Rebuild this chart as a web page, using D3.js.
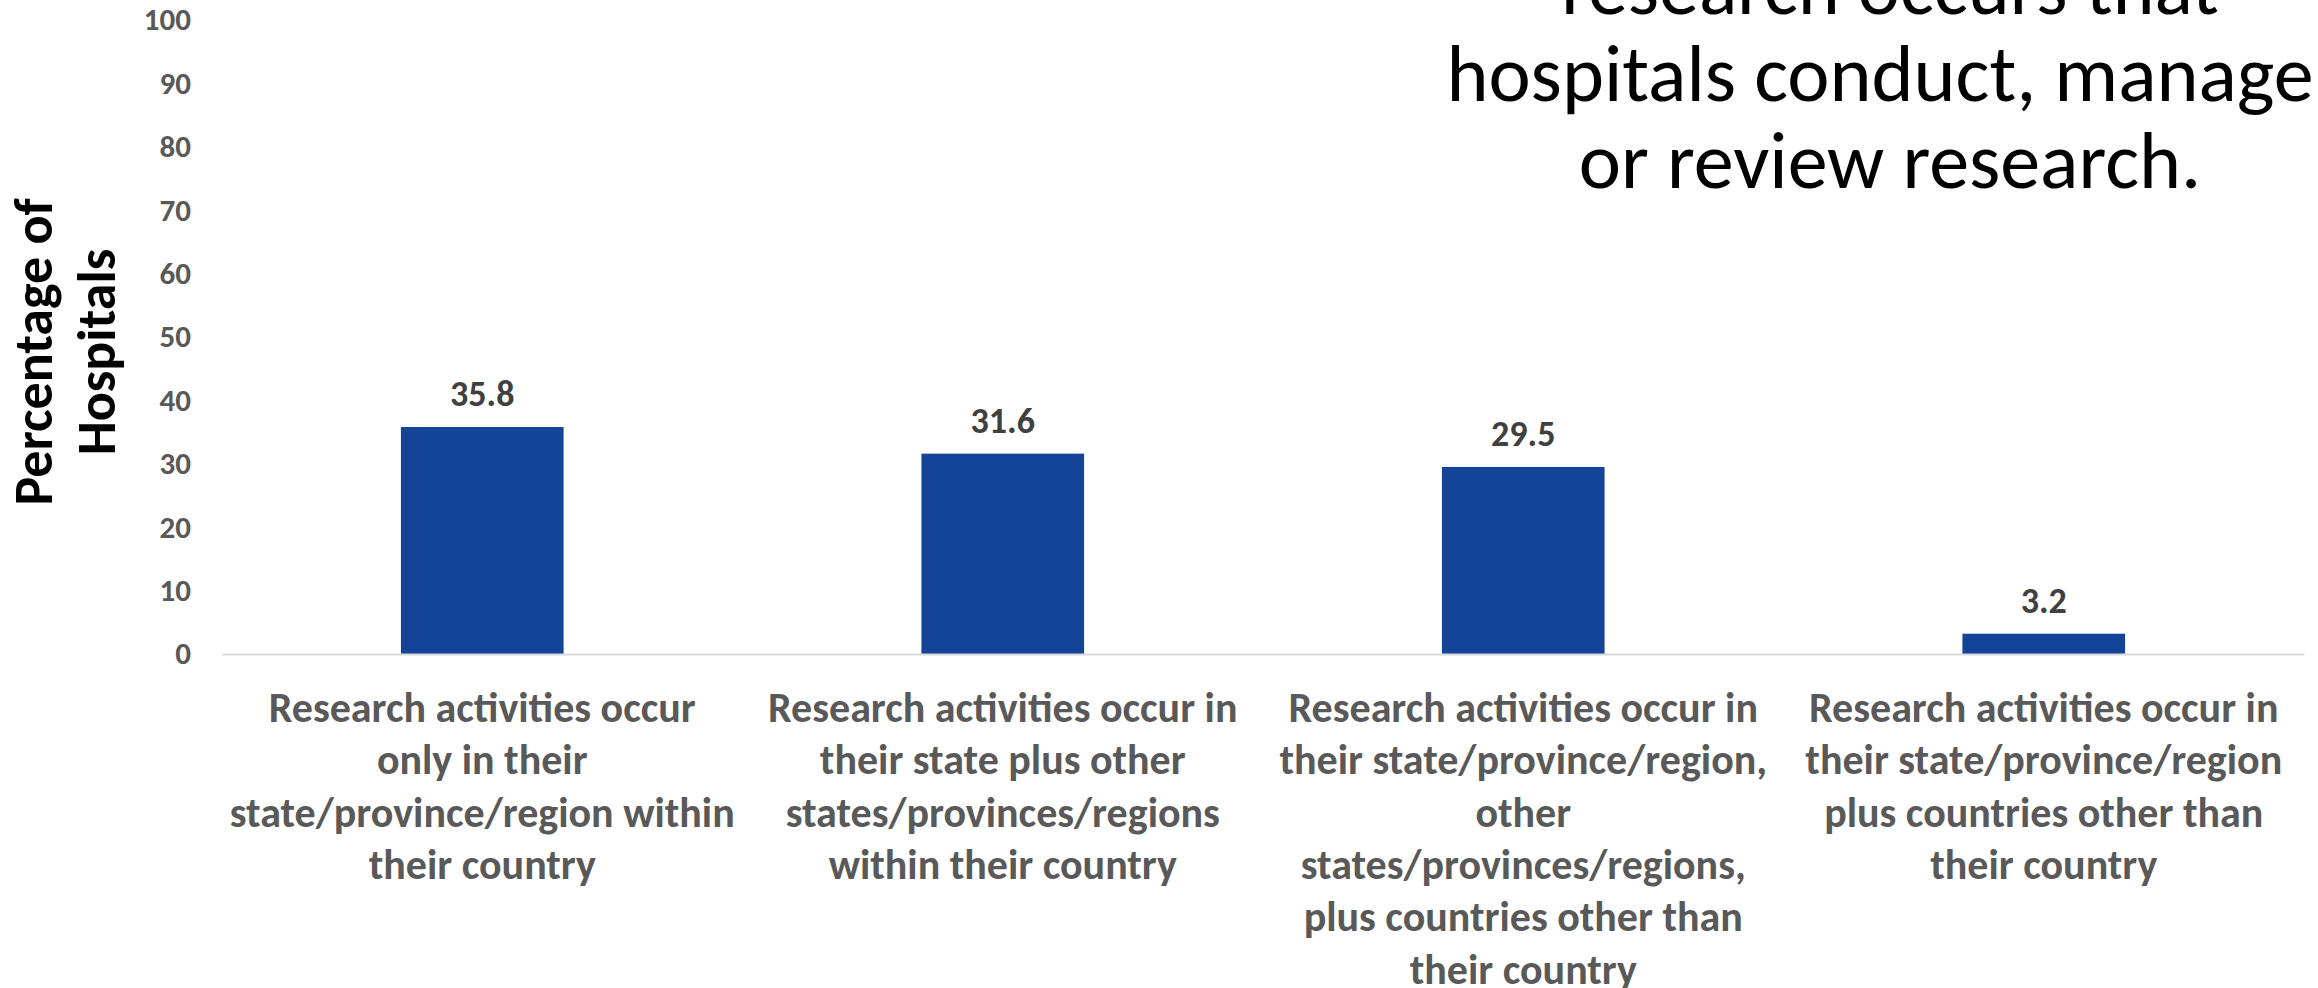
<!DOCTYPE html>
<html>
<head>
<meta charset="utf-8">
<script src="https://cdn.jsdelivr.net/npm/d3@7"></script>
<style>
  html, body { margin: 0; padding: 0; background: #ffffff; overflow: hidden; }
  svg { display: block; }
  text { font-family: Carlito, Calibri, Lato, "Open Sans", sans-serif; }
</style>
</head>
<body>
<svg id="chart" width="2318" height="988"></svg>
<script>
// ---- Data ----
const categories = [
  "Research activities occur\nonly in their\nstate/province/region within\ntheir country",
  "Research activities occur in\ntheir state plus other\nstates/provinces/regions\nwithin their country",
  "Research activities occur in\ntheir state/province/region,\nother\nstates/provinces/regions,\nplus countries other than\ntheir country",
  "Research activities occur in\ntheir state/province/region\nplus countries other than\ntheir country"
];
const values = [35.8, 31.6, 29.5, 3.2];
const yTicks = [0, 10, 20, 30, 40, 50, 60, 70, 80, 90, 100];
const yTitleLines = ["Percentage of", "Hospitals"];
const titleLines = ["research occurs that", "hospitals conduct, manage,", "or review research."];

// ---- Layout ----
const W = 2318, H = 988;
const plot = { left: 222, right: 2304, top: 20, bottom: 654 };
const svg = d3.select("#chart");

const x = d3.scaleBand()
  .domain(d3.range(categories.length))
  .range([plot.left, plot.right])
  .paddingInner(0.6875)
  .paddingOuter(0.34375);

const y = d3.scaleLinear()
  .domain([0, 100])
  .range([plot.bottom, plot.top]);

// Y axis (labels only)
const yAxis = svg.append("g")
  .attr("transform", `translate(${plot.left},0)`)
  .call(d3.axisLeft(y).tickValues(yTicks).tickSize(0).tickPadding(31));
yAxis.select(".domain").remove();
yAxis.selectAll("text")
  .attr("fill", "#595959")
  .style("font-family", "Carlito, Calibri, Lato, sans-serif")
  .style("font-weight", "900")
  .style("font-size", "31px");

// Bars
svg.append("g").selectAll("rect")
  .data(values)
  .join("rect")
  .attr("x", (d, i) => x(i))
  .attr("width", x.bandwidth())
  .attr("y", d => y(d))
  .attr("height", d => y(0) - y(d))
  .attr("fill", "#134497");

// X axis with baseline
const xAxis = svg.append("g")
  .attr("transform", `translate(0,${plot.bottom})`)
  .call(d3.axisBottom(x).tickSize(0).tickSizeOuter(0).tickFormat(""));
xAxis.select(".domain")
  .attr("stroke", "#d9d9d9")
  .attr("stroke-width", 2);
xAxis.selectAll(".tick text").remove();
xAxis.selectAll(".tick").each(function(d) {
  const lines = categories[d].split("\n");
  const t = d3.select(this).append("text")
    .attr("text-anchor", "middle")
    .attr("fill", "#595959")
    .style("font-weight", "bold")
    .style("font-size", "42px");
  lines.forEach((ln, k) => {
    t.append("tspan").attr("x", 0).attr("y", 68 + k * 52.3).text(ln);
  });
});

// Value labels
svg.append("g").selectAll("text")
  .data(values)
  .join("text")
  .attr("x", (d, i) => x(i) + x.bandwidth() / 2)
  .attr("y", d => y(d) - 21)
  .attr("text-anchor", "middle")
  .attr("fill", "#404040")
  .style("font-weight", "bold")
  .style("font-size", "36px")
  .text(d => d.toFixed(1));

// Y axis title
const yt = svg.append("text")
  .attr("transform", `translate(0,352) rotate(-90)`)
  .attr("text-anchor", "middle")
  .attr("fill", "#000000")
  .style("font-weight", "bold")
  .style("font-size", "54px");
yTitleLines.forEach((ln, k) => {
  yt.append("tspan").attr("x", 0).attr("y", 52 + k * 63).text(ln);
});

// Title (top right, partially cut)
const tt = svg.append("text")
  .attr("text-anchor", "middle")
  .attr("fill", "#000000")
  .style("font-weight", "normal")
  .style("font-size", "80px");
titleLines.forEach((ln, k) => {
  tt.append("tspan").attr("x", 1890).attr("y", 14 + k * 87).text(ln);
});
</script>
</body>
</html>
